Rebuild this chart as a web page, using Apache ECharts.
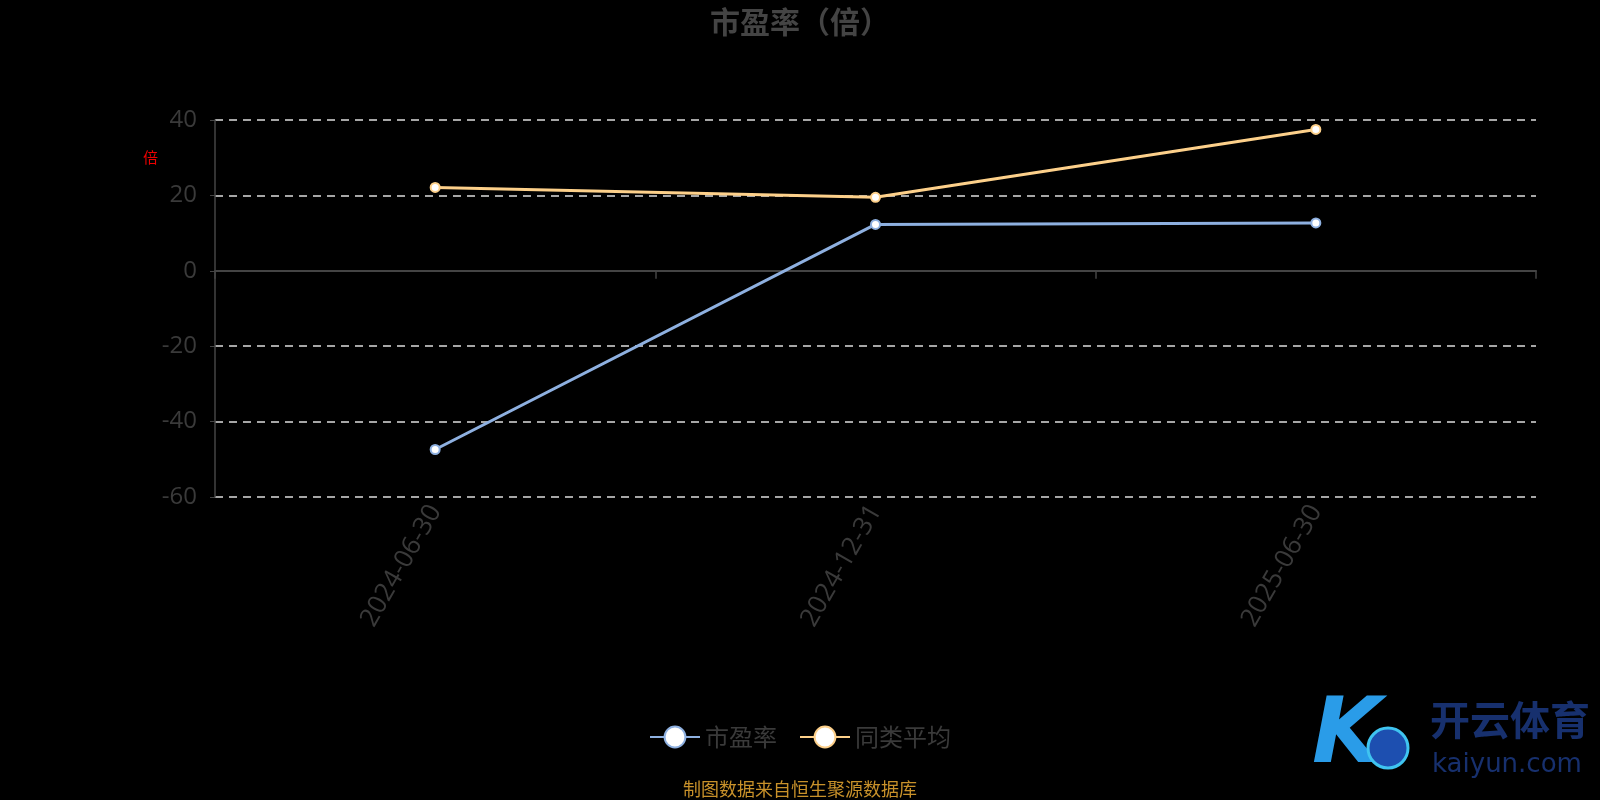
<!DOCTYPE html>
<html>
<head>
<meta charset="utf-8">
<style>
  html, body { margin: 0; padding: 0; background: #000; }
  #chart { width: 1600px; height: 800px; }
</style>
<script src="https://cdn.jsdelivr.net/npm/echarts@6/dist/echarts.min.js"></script>
</head>
<body>
<div id="chart"></div>
<script>
  // 报告期
  var dates = ['2024-06-30', '2024-12-31', '2025-06-30'];
  // 市盈率
  var peValues = [-47.4, 12.3, 12.7];
  // 同类平均
  var avgValues = [22.1, 19.5, 37.5];
  var seriesNames = ['市盈率', '同类平均'];

  var font = '"Noto Sans CJK SC", "Noto Sans", sans-serif';
  var chart = echarts.init(document.getElementById('chart'));

  var option = {
    backgroundColor: '#000',
    title: {
      text: '市盈率（倍）',
      left: 'center',
      top: 2,
      textStyle: { color: '#444', fontSize: 30, fontWeight: 'bold', fontFamily: font }
    },
    legend: {
      data: seriesNames,
      bottom: 46,
      left: 'center',
      itemWidth: 50,
      itemHeight: 26,
      itemGap: 22,
      textStyle: { color: '#3a3a3a', fontSize: 24, fontFamily: font }
    },
    grid: {
      left: 215,
      right: 64,
      top: 120,
      bottom: 303,
      containLabel: false,
      outerBoundsMode: 'none'
    },
    xAxis: {
      type: 'category',
      data: dates,
      axisLine: { onZero: true, lineStyle: { color: '#444', width: 2 } },
      axisTick: { show: true, length: 8, lineStyle: { color: '#444', width: 1.5 } },
      axisLabel: {
        color: '#3a3a3a',
        fontSize: 26,
        rotate: 60,
        margin: 10,
        fontFamily: '"Open Sans", "Noto Sans", sans-serif'
      }
    },
    yAxis: {
      type: 'value',
      min: -60,
      max: 40,
      interval: 20,
      axisLine: { show: true, lineStyle: { color: '#444', width: 1.5 } },
      axisTick: { show: true, lineStyle: { color: '#444' } },
      axisLabel: { color: '#3a3a3a', fontSize: 24, margin: 18, fontFamily: '"Open Sans", "Noto Sans", sans-serif' },
      splitLine: {
        lineStyle: {
          // 0 处由坐标轴线代替
          color: ['#ddd', '#ddd', '#ddd', 'rgba(0,0,0,0)', '#ddd', '#ddd'],
          type: [8, 6],
          width: 1.5
        }
      }
    },
    series: [
      {
        name: seriesNames[0],
        type: 'line',
        data: peValues,
        symbol: 'circle',
        symbolSize: 9,
        itemStyle: { color: '#fff', borderColor: '#8eb0e0', borderWidth: 2 },
        lineStyle: { color: '#8eb0e0', width: 3 }
      },
      {
        name: seriesNames[1],
        type: 'line',
        data: avgValues,
        symbol: 'circle',
        symbolSize: 9,
        itemStyle: { color: '#fff', borderColor: '#fdd08a', borderWidth: 2 },
        lineStyle: { color: '#fdd08a', width: 3 }
      }
    ],
    graphic: [
      {
        type: 'text',
        left: 143,
        top: 150,
        style: { text: '倍', fill: '#e00', font: '15px ' + font }
      },
      {
        type: 'text',
        left: 'center',
        bottom: 2,
        style: { text: '制图数据来自恒生聚源数据库', fill: '#c8912a', font: '18px ' + font }
      },
      {
        type: 'text',
        left: 1312,
        top: 694,
        style: {
          text: 'K',
          font: 'italic bold 90px "DejaVu Sans", sans-serif',
          fill: '#2a9ce8'
        }
      },
      {
        type: 'circle',
        shape: { cx: 1388, cy: 748, r: 20 },
        style: { fill: '#1d4fb0', stroke: '#3fc4f0', lineWidth: 3 }
      },
      {
        type: 'text',
        left: 1430,
        top: 700,
        style: { text: '开云体育', fill: '#17306e', font: 'bold 40px ' + font }
      },
      {
        type: 'text',
        left: 1432,
        top: 752,
        style: { text: 'kaiyun.com', fill: '#17306e', font: '26px "DejaVu Sans", sans-serif' }
      }
    ]
  };

  chart.setOption(option, true);
  window.addEventListener('resize', function () {
    chart.resize();
  });
</script>
</body>
</html>
